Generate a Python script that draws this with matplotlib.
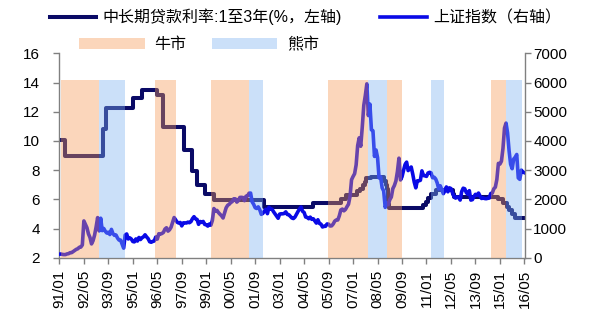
import numpy as np
import matplotlib.pyplot as plt
from matplotlib.lines import Line2D
from matplotlib.patches import Patch

plt.rcParams['font.family'] = ['Liberation Sans', 'Noto Sans CJK SC']
plt.rcParams['font.size'] = 11

# x axis: months counted from 1991-01
x_ticklabels = ['91/01', '92/05', '93/09', '95/01', '96/05', '97/09', '99/01', '00/05',
                '01/09', '03/01', '04/05', '05/09', '07/01', '08/05', '09/09', '11/01',
                '12/05', '13/09', '15/01', '16/05']

# 1-3 year loan rate (%), change dates and new levels
rate_dates = ['1991-01-01', '1991-04-21', '1993-05-15', '1993-07-11', '1995-01-01',
              '1995-07-01', '1996-05-01', '1996-08-23', '1997-10-23', '1998-03-25',
              '1998-07-01', '1998-12-07', '1999-06-10', '2002-02-21', '2004-10-29',
              '2006-04-28', '2006-08-19', '2007-03-18', '2007-05-19', '2007-07-21',
              '2007-08-22', '2007-09-15', '2007-12-21', '2008-09-16', '2008-10-09',
              '2008-10-30', '2008-11-27', '2008-12-23', '2010-10-20', '2010-12-26',
              '2011-02-09', '2011-04-06', '2011-07-07', '2012-06-08', '2012-07-06',
              '2014-11-22', '2015-03-01', '2015-05-11', '2015-06-28', '2015-08-26',
              '2015-10-24', '2016-05-01']
rate_values = [10.08, 9.00, 10.80, 12.24, 12.96, 13.50, 13.14, 10.98, 9.36, 7.92,
               7.02, 6.39, 5.94, 5.49, 5.76, 6.03, 6.30, 6.57, 6.75, 7.02,
               7.20, 7.47, 7.56, 7.29, 7.02, 6.75, 5.67, 5.40, 5.60, 5.85,
               6.10, 6.40, 6.65, 6.40, 6.15, 6.00, 5.75, 5.50, 5.25, 5.00,
               4.75, 4.75]

# Shanghai Composite, month-end, 1991-01 .. 2016-05
sh_index = [
    130, 134, 120, 114, 115, 138, 146, 180, 181, 219, 260, 293,
    313, 364, 372, 445, 1266, 1150, 1033, 822, 700, 480, 590, 780,
    1058, 1380, 925, 1358, 934, 1007, 912, 851, 880, 801, 977, 834,
    772, 785, 680, 611, 610, 467, 334, 780, 820, 649, 687, 648,
    562, 549, 650, 577, 700, 630, 691, 722, 791, 718, 660, 555,
    537, 563, 580, 717, 644, 827, 816, 836, 872, 987, 1032, 917,
    964, 1050, 1211, 1381, 1298, 1222, 1194, 1212, 1097, 1200, 1199, 1194,
    1224, 1206, 1243, 1343, 1411, 1339, 1316, 1150, 1246, 1217, 1248, 1147,
    1134, 1090, 1158, 1120, 1280, 1689, 1601, 1627, 1551, 1494, 1443, 1367,
    1535, 1715, 1800, 1836, 1894, 1928, 2023, 2021, 1910, 1961, 2070, 2073,
    2065, 1959, 2112, 2119, 2214, 2218, 1920, 1834, 1717, 1691, 1747, 1646,
    1491, 1524, 1603, 1667, 1515, 1732, 1671, 1669, 1581, 1507, 1434, 1358,
    1499, 1511, 1510, 1521, 1576, 1487, 1477, 1421, 1367, 1348, 1397, 1497,
    1590, 1675, 1741, 1595, 1555, 1399, 1386, 1342, 1396, 1320, 1340, 1267,
    1191, 1306, 1181, 1159, 1060, 1080, 1083, 1162, 1155, 1092, 1099, 1161,
    1258, 1299, 1298, 1440, 1641, 1672, 1612, 1658, 1752, 1837, 2099, 2675,
    2786, 2881, 3183, 3841, 4109, 3820, 4471, 5218, 5552, 5954, 4871, 5262,
    4383, 4348, 3472, 3693, 3433, 2736, 2775, 2397, 2293, 1729, 1871, 1821,
    1991, 2082, 2373, 2477, 2632, 2959, 3412, 2667, 2779, 2996, 3195, 3277,
    2989, 3051, 3110, 2870, 2592, 2398, 2638, 2638, 2656, 2979, 2820, 2808,
    2790, 2905, 2928, 2911, 2743, 2762, 2701, 2567, 2359, 2468, 2333, 2199,
    2292, 2428, 2263, 2397, 2373, 2225, 2103, 2047, 2086, 2069, 1980, 2269,
    2385, 2365, 2237, 2178, 2301, 1979, 1994, 2098, 2175, 2141, 2220, 2116,
    2033, 2056, 2033, 2026, 2039, 2048, 2202, 2217, 2364, 2420, 2683, 3235,
    3210, 3310, 3748, 4442, 4612, 4277, 3664, 3206, 3053, 3383, 3445, 3539,
    2738, 2688, 3004, 2938, 2917]

bull = [('1991-02-01', '1993-03-04'), ('1996-03-22', '1997-05-10'),
        ('1999-04-01', '2001-04-25'), ('2005-08-19', '2007-10-19'),
        ('2008-11-01', '2009-09-01'), ('2014-07-01', '2015-05-01')]
bear = [('1993-03-04', '1994-08-01'), ('2001-04-25', '2002-02-04'),
        ('2007-10-19', '2008-11-01'), ('2011-04-01', '2011-12-19'),
        ('2015-05-01', '2016-03-13')]


def to_month(s):
    y, m, d = [int(p) for p in s.split('-')]
    return (y - 1991) * 12 + (m - 1) + (d - 1) / 30.0


navy = '#0a0a66'
blue = '#0a0ae6'
bull_c = '#f59a55'
bear_c = '#7fb2f2'

fig = plt.figure(figsize=(6, 3.29), dpi=100)
ax = fig.add_axes([0.099, 0.216, 0.776, 0.622])
ax2 = ax.twinx()

rx = [to_month(d) for d in rate_dates]
ax.step(rx, rate_values, where='post', color=navy, lw=2.9, zorder=2)
ax2.plot(np.arange(len(sh_index)), sh_index, color=blue, lw=2.6, zorder=2)

for a, b in bull:
    ax2.axvspan(to_month(a), to_month(b), ymin=0, ymax=0.87, color=bull_c, alpha=0.4, lw=0, zorder=3)
for a, b in bear:
    ax2.axvspan(to_month(a), to_month(b), ymin=0, ymax=0.87, color=bear_c, alpha=0.4, lw=0, zorder=3)

ax.set_xlim(0, 304.4)
ax.set_ylim(2, 16)
ax.set_yticks(range(2, 17, 2))
ax2.set_ylim(0, 7000)
ax2.set_yticks(range(0, 7001, 1000))
ax.set_xticks(np.arange(len(x_ticklabels)) * 16)
ax.set_xticklabels(x_ticklabels, rotation=90)

for a in (ax, ax2):
    a.spines['top'].set_visible(False)
    for s in ('left', 'right', 'bottom'):
        a.spines[s].set_color('#808080')
        a.spines[s].set_linewidth(1.0)
    a.tick_params(colors='#808080', labelcolor='black', length=4, width=1.0, labelsize=11)
ax.spines['right'].set_visible(False)
ax2.spines['left'].set_visible(False)
ax2.spines['bottom'].set_visible(False)
ax.tick_params(axis='y', pad=10)
ax.tick_params(axis='x', pad=4.5)
ax2.tick_params(axis='y', pad=2)

h1 = [Line2D([], [], color=navy, lw=2.9), Line2D([], [], color=blue, lw=2.6)]
l1 = ['中长期贷款利率:1至3年(%，左轴)', '上证指数（右轴）']
fig.legend(h1, l1, loc='center', bbox_to_anchor=(0.509, 0.948), ncol=2, frameon=False,
           handlelength=2.9, handletextpad=0.4, columnspacing=2.4, fontsize=11.5)
h2 = [Patch(facecolor=bull_c, alpha=0.4, lw=0), Patch(facecolor=bear_c, alpha=0.4, lw=0)]
l2 = ['牛市', '熊市']
fig.legend(h2, l2, loc='center', bbox_to_anchor=(0.332, 0.865), ncol=2, frameon=False,
           handlelength=4.1, handleheight=0.7, handletextpad=0.6, columnspacing=1.6, fontsize=11.5)

fig.savefig('out.png', dpi=100)
